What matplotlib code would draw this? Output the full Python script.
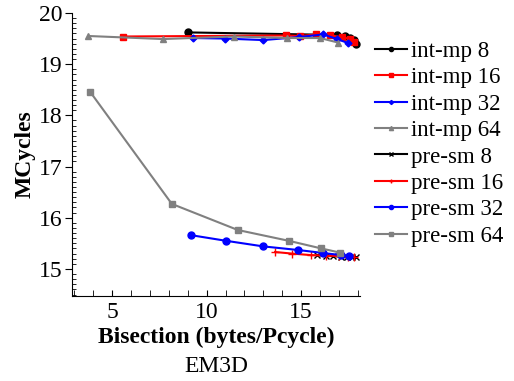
import matplotlib
matplotlib.use("Agg")
import matplotlib.pyplot as plt
from matplotlib.ticker import MultipleLocator

plt.rcParams['font.family'] = ['Liberation Serif', 'DejaVu Serif']

# int-mp series
intmp8_x = [9.0, 16.9, 17.3, 17.6, 17.8, 17.9]
intmp8_y = [19.62, 19.57, 19.55, 19.52, 19.47, 19.40]
intmp16_x = [5.6, 14.2, 14.95, 15.8, 16.55, 17.15, 17.6, 17.78]
intmp16_y = [19.54, 19.56, 19.55, 19.58, 19.56, 19.53, 19.49, 19.44]
intmp32_x = [9.27, 10.98, 13.0, 14.9, 16.18, 16.89, 17.5]
intmp32_y = [19.51, 19.50, 19.47, 19.53, 19.58, 19.49, 19.41]
intmp64_x = [3.75, 7.68, 11.46, 14.24, 16.0, 16.97]
intmp64_y = [19.55, 19.49, 19.54, 19.51, 19.51, 19.42]

# pre-sm series
presm8_x = [15.85, 16.3, 16.7, 17.1, 17.4, 17.7, 17.9]
presm8_y = [15.27, 15.26, 15.25, 15.24, 15.24, 15.23, 15.23]
presm16_x = [13.62, 14.5, 15.5, 16.3, 17.0, 17.5, 17.8]
presm16_y = [15.33, 15.30, 15.27, 15.26, 15.25, 15.24, 15.24]
presm32_x = [9.16, 11.01, 12.99, 14.82, 16.18, 17.1, 17.52]
presm32_y = [15.66, 15.55, 15.44, 15.37, 15.31, 15.27, 15.25]
presm64_x = [3.84, 8.16, 11.65, 14.33, 16.06, 17.03]
presm64_y = [18.46, 16.27, 15.76, 15.55, 15.40, 15.32]

labels = ['int-mp 8', 'int-mp 16', 'int-mp 32', 'int-mp 64',
          'pre-sm 8', 'pre-sm 16', 'pre-sm 32', 'pre-sm 64']
colors = ['black', 'red', 'blue', 'gray', 'black', 'red', 'blue', 'gray']
markers = ['o', 's', 'D', '^', 'x', '+', 'o', 's']
msizes = [5, 5, 3.5, 5, 4, 6, 5, 5]

series = [(intmp8_x, intmp8_y), (intmp16_x, intmp16_y), (intmp32_x, intmp32_y),
          (intmp64_x, intmp64_y), (presm8_x, presm8_y), (presm16_x, presm16_y),
          (presm32_x, presm32_y), (presm64_x, presm64_y)]

FS = 17
LFS = 16.5

fig = plt.figure(figsize=(5.14, 3.81), dpi=100)
ax = fig.add_axes([0.140, 0.223, 0.560, 0.743])

handles = []
for (xs, ys), lab, c, m, ms in zip(series, labels, colors, markers, msizes):
    h, = ax.plot(xs, ys, color=c, marker=m, markersize=ms, linewidth=1.5,
                 label=lab, markeredgewidth=1)
    handles.append(h)

ax.set_xlim(2.88, 18.1)
ax.set_ylim(14.47, 20.0)
ax.spines['top'].set_visible(False)
ax.spines['right'].set_visible(False)
ax.xaxis.set_major_locator(MultipleLocator(5))
ax.xaxis.set_minor_locator(MultipleLocator(1))
ax.yaxis.set_major_locator(MultipleLocator(1))
ax.yaxis.set_minor_locator(MultipleLocator(0.1))
ax.tick_params(axis='y', which='major', labelsize=FS, length=5, direction='out', pad=2)
ax.tick_params(axis='y', which='minor', length=3, direction='in')
ax.tick_params(axis='x', which='major', labelsize=FS, length=4, direction='in', pad=4)
ax.tick_params(axis='x', which='minor', length=4, direction='in')

ax.set_xlabel('Bisection (bytes/Pcycle)', fontsize=FS, fontweight='bold', labelpad=3)
ax.set_ylabel('MCycles', fontsize=FS, fontweight='bold', labelpad=2)
fig.text(0.42, 0.038, 'EM3D', fontsize=FS, ha='center', va='center')

fig.legend(handles=handles, labels=labels, loc='upper left',
           bbox_to_anchor=(0.729, 0.893), frameon=False, fontsize=LFS,
           handlelength=1.4, handletextpad=0.2, labelspacing=0.235,
           markerscale=0.6, borderaxespad=0, borderpad=0)

fig.savefig('out.png', dpi=100)
